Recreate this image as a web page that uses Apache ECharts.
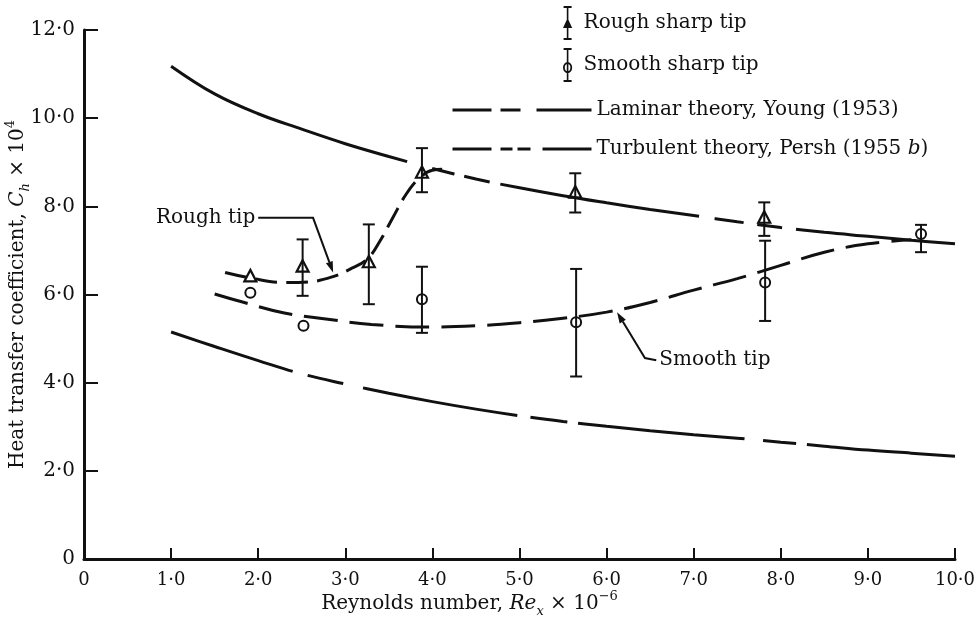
<!DOCTYPE html>
<html>
<head>
<meta charset="utf-8">
<script src="https://cdn.jsdelivr.net/npm/echarts@6/dist/echarts.min.js"></script>
<style>
  html, body { margin: 0; padding: 0; background: #ffffff; }
  #main { width: 974px; height: 625px; }
</style>
</head>
<body>
<div id="main"></div>
<script>
// Reynolds number (x 10^-6) grid for the two theory curves
const reTheory = [1.0, 1.5, 2.0, 2.5, 3.0, 3.5, 4.0, 4.5, 5.0, 5.5, 6.0, 6.5, 7.0, 7.5, 8.0, 8.5, 9.0, 9.5, 10.0];
// Laminar theory, Young (1953): Ch x 10^4
const laminarYoung = [5.15, 4.82, 4.50, 4.20, 3.97, 3.76, 3.57, 3.40, 3.25, 3.12, 3.01, 2.91, 2.82, 2.74, 2.65, 2.56, 2.47, 2.40, 2.33];
// Turbulent theory, Persh (1955 b): Ch x 10^4
const turbulentPersh = [11.18, 10.55, 10.10, 9.75, 9.42, 9.13, 8.86, 8.62, 8.42, 8.24, 8.08, 7.93, 7.79, 7.65, 7.52, 7.41, 7.32, 7.23, 7.15];

// Faired curve through the rough-tip data
const reRoughCurve = [1.62, 1.9, 2.3, 2.6, 2.85, 3.05, 3.25, 3.4, 3.55, 3.7, 3.85, 4.0, 4.15];
const chRoughCurve = [6.50, 6.38, 6.27, 6.29, 6.40, 6.57, 6.80, 7.22, 7.76, 8.28, 8.64, 8.82, 8.84];
// Faired curve through the smooth-tip data
const reSmoothCurve = [1.5, 1.8, 2.3, 2.8, 3.3, 4.0, 4.5, 5.0, 5.5, 6.0, 6.5, 7.0, 7.5, 8.0, 8.5, 9.0, 9.5];
const chSmoothCurve = [6.01, 5.84, 5.58, 5.44, 5.32, 5.26, 5.29, 5.36, 5.46, 5.60, 5.82, 6.10, 6.36, 6.66, 6.96, 7.15, 7.24];

// Measured points with scatter band (null where no band was given)
const roughRe   = [1.91, 2.51, 3.27, 3.88, 5.64, 7.81];
const roughCh   = [6.40, 6.62, 6.72, 8.75, 8.30, 7.73];
const roughLow  = [null, 5.97, 5.78, 8.32, 7.86, 7.33];
const roughHigh = [null, 7.25, 7.59, 9.32, 8.75, 8.09];

const smoothRe   = [1.91, 2.52, 3.88, 5.65, 7.82, 9.61];
const smoothCh   = [6.04, 5.29, 5.89, 5.37, 6.27, 7.37];
const smoothLow  = [null, null, 5.13, 4.14, 5.40, 6.96];
const smoothHigh = [null, null, 6.63, 6.58, 7.22, 7.58];

// Axis tick labels
const xTickLabels = ['0', '1·0', '2·0', '3·0', '4·0', '5·0', '6·0', '7·0', '8·0', '9·0', '10·0'];
const yTickLabels = ['0', '2·0', '4·0', '6·0', '8·0', '10·0', '12·0'];

const INK = '#111111';
const SERIF = '"DejaVu Serif", "Liberation Serif", serif';

const zip2 = (a, b) => a.map((v, i) => [v, b[i]]);
const zip4 = (a, b, c, d) => a.map((v, i) => [v, b[i], c[i], d[i]]);

// Marker with optional vertical band, drawn through the grid's scales
function bandMarker(kind) {
  return function (params, api) {
    const x = api.value(0), y = api.value(1);
    const lo = api.value(2), hi = api.value(3);
    const c = api.coord([x, y]);
    const kids = [];
    const barStyle = { stroke: INK, lineWidth: 2 };
    if (!isNaN(lo) && !isNaN(hi) && lo !== null && hi !== null) {
      const t = api.coord([x, hi]);
      const b = api.coord([x, lo]);
      const cap = 6;
      kids.push({ type: 'line', shape: { x1: t[0], y1: t[1], x2: b[0], y2: b[1] }, style: barStyle });
      kids.push({ type: 'line', shape: { x1: t[0] - cap, y1: t[1], x2: t[0] + cap, y2: t[1] }, style: barStyle });
      kids.push({ type: 'line', shape: { x1: b[0] - cap, y1: b[1], x2: b[0] + cap, y2: b[1] }, style: barStyle });
    }
    if (kind === 'triangle') {
      kids.push({
        type: 'polygon',
        shape: { points: [[c[0], c[1] - 7], [c[0] + 6, c[1] + 4.5], [c[0] - 6, c[1] + 4.5]] },
        style: { fill: 'none', stroke: INK, lineWidth: 2.2 }
      });
    } else {
      kids.push({
        type: 'circle',
        shape: { cx: c[0], cy: c[1], r: 5 },
        style: { fill: 'none', stroke: INK, lineWidth: 2 }
      });
    }
    return { type: 'group', children: kids };
  };
}

// Legend icons: I-beam with triangle / with ring
const roughIcon = 'path://M1 0H9V2H1Z M4.2 0H5.8V34H4.2Z M1 32H9V34H1Z M5 12L9.6 22L0.4 22Z';
const smoothIcon = 'path://M1 0H9V2H1Z M4.2 0H5.8V34H4.2Z M1 32H9V34H1Z ' +
  'M5 14A4.6 5.6 0 1 1 5 25.2A4.6 5.6 0 1 1 5 14Z M5 16A2.8 3.6 0 1 0 5 23.2A2.8 3.6 0 1 0 5 16Z';

const titleRich = {
  n: { fontFamily: SERIF, fontSize: 20, color: INK, lineHeight: 28 },
  i: { fontFamily: SERIF, fontSize: 20, color: INK, fontStyle: 'italic', lineHeight: 28 },
  s: { fontFamily: SERIF, fontSize: 13, color: INK, fontStyle: 'italic', verticalAlign: 'bottom', lineHeight: 15 },
  p: { fontFamily: SERIF, fontSize: 13, color: INK, verticalAlign: 'top', lineHeight: 15 }
};

const chart = echarts.init(document.getElementById('main'), null, { renderer: 'canvas' });

const option = {
  backgroundColor: '#ffffff',
  animation: false,
  textStyle: { fontFamily: SERIF, color: INK },
  grid: { left: 84, right: 19, top: 30, bottom: 66, containLabel: false, outerBoundsMode: 'none' },
  legend: [
    {
      orient: 'vertical',
      left: 558, top: 1,
      itemWidth: 10, itemHeight: 34, itemGap: 8,
      selectedMode: false,
      textStyle: { fontFamily: SERIF, fontSize: 20, color: INK, padding: [0, 0, 0, 6] },
      data: [
        { name: 'Rough sharp tip', icon: roughIcon },
        { name: 'Smooth sharp tip', icon: smoothIcon }
      ]
    },
    {
      orient: 'vertical',
      left: 446, top: 95,
      itemWidth: 139, itemHeight: 20, itemGap: 19,
      selectedMode: false,
      textStyle: {
        fontFamily: SERIF, fontSize: 20, color: INK,
        rich: {
          t: { fontFamily: SERIF, fontSize: 20, color: INK },
          i: { fontFamily: SERIF, fontSize: 20, color: INK, fontStyle: 'italic' }
        }
      },
      formatter: function (name) {
        if (name.indexOf('Persh') >= 0) {
          return '{t|Turbulent theory, Persh (1955 }{i|b}{t|)}';
        }
        return '{t|' + name + '}';
      },
      data: [
        {
          name: 'Laminar theory, Young (1953)',
          itemStyle: { opacity: 0 },
          lineStyle: { width: 3, type: [39, 9, 20, 16, 60, 10] }
        },
        {
          name: 'Turbulent theory, Persh (1955 b)',
          itemStyle: { opacity: 0 },
          lineStyle: { width: 3, type: [39, 9, 12, 5, 13, 12, 60, 10] }
        }
      ]
    }
  ],
  xAxis: {
    type: 'value',
    min: 0, max: 10, interval: 1,
    name: '{n|Reynolds number, }{i|Re}{s|x}{n| × 10}{p|−6}',
    nameLocation: 'middle',
    nameGap: 31,
    nameMoveOverlap: false,
    nameTextStyle: { padding: [0, 100, 0, 0], rich: titleRich },
    axisLine: { show: true, onZero: false, lineStyle: { color: INK, width: 3 } },
    axisTick: { show: true, inside: true, length: 11, lineStyle: { color: INK, width: 2 } },
    axisLabel: {
      margin: 12, fontFamily: SERIF, fontSize: 18, color: INK,
      formatter: (v) => xTickLabels[Math.round(v)]
    },
    splitLine: { show: false }
  },
  yAxis: {
    type: 'value',
    min: 0, max: 12, interval: 2,
    name: '{n|Heat transfer coefficient, }{i|C}{s|h}{n| × 10}{p|4}',
    nameLocation: 'middle',
    nameRotate: 90,
    nameGap: 52,
    nameMoveOverlap: false,
    nameTextStyle: { rich: titleRich },
    axisLine: { show: true, onZero: false, lineStyle: { color: INK, width: 3 } },
    axisTick: { show: true, inside: true, length: 14, lineStyle: { color: INK, width: 2 } },
    axisLabel: {
      margin: 9, fontFamily: SERIF, fontSize: 20, color: INK,
      formatter: (v) => yTickLabels[Math.round(v / 2)]
    },
    splitLine: { show: false }
  },
  series: [
    {
      name: 'Laminar theory, Young (1953)',
      type: 'line',
      data: zip2(reTheory, laminarYoung),
      smooth: 0.4,
      symbol: 'none',
      color: INK,
      lineStyle: { color: INK, width: 3, type: [128, 15, 37, 20, 157, 13, 37, 11, 167, 19, 33, 11, 170, 10] },
      z: 3
    },
    {
      name: 'Turbulent theory, Persh (1955 b)',
      type: 'line',
      data: zip2(reTheory, turbulentPersh),
      smooth: 0.4,
      symbol: 'none',
      color: INK,
      lineStyle: { color: INK, width: 3, type: [256, 26, 23, 10, 26, 11, 201, 16, 29, 14, 25, 14, 200, 10] },
      z: 3
    },
    {
      name: 'Rough tip curve',
      type: 'line',
      data: zip2(reRoughCurve, chRoughCurve),
      smooth: 0.4,
      symbol: 'none',
      color: INK,
      lineStyle: { color: INK, width: 3, type: [22, 9] },
      z: 3
    },
    {
      name: 'Smooth tip curve',
      type: 'line',
      data: zip2(reSmoothCurve, chSmoothCurve),
      smooth: 0.4,
      symbol: 'none',
      color: INK,
      lineStyle: { color: INK, width: 3, type: [34, 12] },
      z: 3
    },
    {
      name: 'Rough sharp tip',
      type: 'custom',
      renderItem: bandMarker('triangle'),
      encode: { x: 0, y: 1 },
      itemStyle: { color: INK },
      data: zip4(roughRe, roughCh, roughLow, roughHigh),
      z: 4
    },
    {
      name: 'Smooth sharp tip',
      type: 'custom',
      renderItem: bandMarker('circle'),
      encode: { x: 0, y: 1 },
      itemStyle: { color: INK },
      data: zip4(smoothRe, smoothCh, smoothLow, smoothHigh),
      z: 4
    }
  ]
};

chart.setOption(option);

// Curve labels with leader arrows, placed in data coordinates
const toPx = (p) => chart.convertToPixel({ xAxisIndex: 0, yAxisIndex: 0 }, p);

function leader(points, text, align) {
  const pts = points.map(toPx);
  const tip = pts[pts.length - 1];
  const prev = pts[pts.length - 2];
  const dx = tip[0] - prev[0], dy = tip[1] - prev[1];
  const len = Math.sqrt(dx * dx + dy * dy);
  const ux = dx / len, uy = dy / len;
  const L = 11, W = 3.6;
  const bx = tip[0] - ux * L, by = tip[1] - uy * L;
  const head = [tip, [bx - uy * W, by + ux * W], [bx + uy * W, by - ux * W]];
  const start = pts[0];
  return [
    { type: 'polyline', shape: { points: pts.slice(0, -1).concat([[bx, by]]) }, style: { stroke: INK, lineWidth: 2, fill: null }, z: 10 },
    { type: 'polygon', shape: { points: head }, style: { fill: INK }, z: 10 },
    {
      type: 'text',
      x: start[0] + (align === 'right' ? -3 : 3),
      y: start[1],
      style: { text: text, font: '20px ' + SERIF, fill: INK, align: align, verticalAlign: 'middle' },
      z: 10
    }
  ];
}

const roughTipLeader = [[2.0, 7.74], [2.63, 7.74], [2.86, 6.50]];
const smoothTipLeader = [[6.57, 4.51], [6.44, 4.56], [6.12, 5.60]];

chart.setOption({
  graphic: [].concat(
    leader(roughTipLeader, 'Rough tip', 'right'),
    leader(smoothTipLeader, 'Smooth tip', 'left')
  )
});
</script>
</body>
</html>
